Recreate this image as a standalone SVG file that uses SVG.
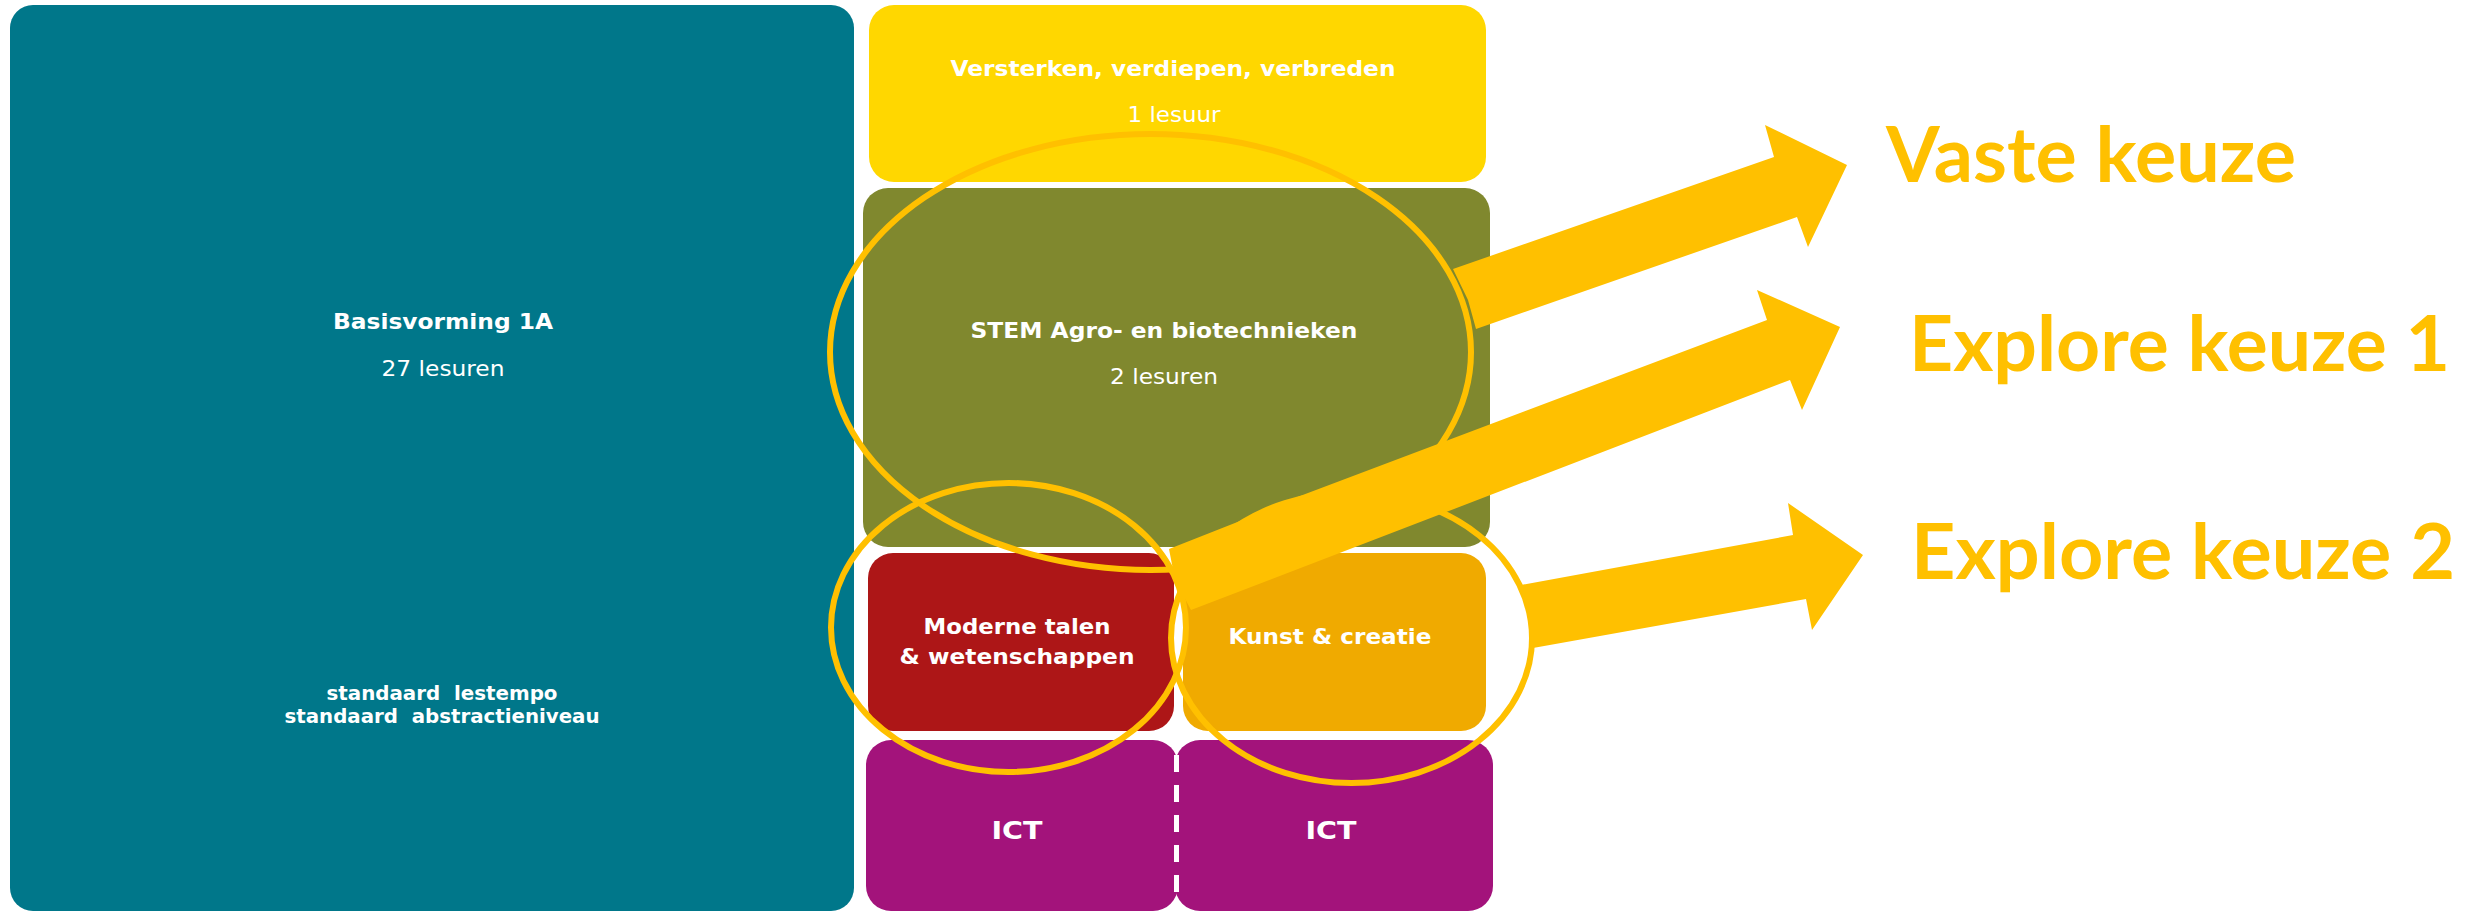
<svg xmlns="http://www.w3.org/2000/svg" width="2471" height="913" viewBox="0 0 2471 913">
<style>
.bx{stroke:none}
.tb{font-family:"DejaVu Sans",Verdana,sans-serif;font-weight:bold;fill:#FFFFFF;text-anchor:middle}
.tr{font-family:"DejaVu Sans",Verdana,sans-serif;font-weight:normal;fill:#FFFFFF;text-anchor:middle}
.big{font-family:Lato,"Open Sans",sans-serif;font-weight:bold;fill:#FFC000}
.arr{fill:#FFC000;stroke:none}
.ell{fill:none;stroke:#FFC000;stroke-width:6}
</style>
<rect width="2471" height="913" fill="#FFFFFF"/>
<g id="basisvorming">
<rect class="bx" x="10" y="5" width="844" height="906" rx="23" fill="#00778A"/>
<text class="tb" x="443" y="329" font-size="22" textLength="220" lengthAdjust="spacingAndGlyphs">Basisvorming 1A</text>
<text class="tr" x="443" y="376" font-size="22" textLength="123" lengthAdjust="spacingAndGlyphs">27 lesuren</text>
<text class="tb" x="442" y="700" font-size="19" textLength="231" lengthAdjust="spacingAndGlyphs" xml:space="preserve">standaard  lestempo</text>
<text class="tb" x="442" y="723" font-size="19" textLength="315" lengthAdjust="spacingAndGlyphs" xml:space="preserve">standaard  abstractieniveau</text>
</g>
<g id="versterken">
<rect class="bx" x="869" y="5" width="617" height="177" rx="25" fill="#FFD700"/>
<text class="tb" x="1173" y="76" font-size="22" textLength="445" lengthAdjust="spacingAndGlyphs">Versterken, verdiepen, verbreden</text>
<text class="tr" x="1174" y="122" font-size="22" textLength="93" lengthAdjust="spacingAndGlyphs">1 lesuur</text>
</g>
<g id="stem">
<rect class="bx" x="863" y="188" width="627" height="359" rx="25" fill="#80882E"/>
<text class="tb" x="1164" y="338" font-size="22" textLength="387" lengthAdjust="spacingAndGlyphs">STEM Agro- en biotechnieken</text>
<text class="tr" x="1164" y="384" font-size="22" textLength="108" lengthAdjust="spacingAndGlyphs">2 lesuren</text>
</g>
<g id="moderne-talen">
<rect class="bx" x="868" y="553" width="306" height="178" rx="25" fill="#AD1617"/>
<text class="tb" x="1017" y="634" font-size="22" textLength="187" lengthAdjust="spacingAndGlyphs">Moderne talen</text>
<text class="tb" x="1017" y="664" font-size="22" textLength="235" lengthAdjust="spacingAndGlyphs">&amp; wetenschappen</text>
</g>
<g id="kunst">
<rect class="bx" x="1183" y="553" width="303" height="178" rx="25" fill="#F0AA00"/>
<text class="tb" x="1330" y="644" font-size="22" textLength="203" lengthAdjust="spacingAndGlyphs">Kunst &amp; creatie</text>
</g>
<g id="ict">
<rect class="bx" x="866" y="740" width="312" height="171" rx="25" fill="#A3137B"/>
<rect class="bx" x="1175" y="740" width="318" height="171" rx="25" fill="#A3137B"/>
<line x1="1176.5" y1="755" x2="1176.5" y2="911" stroke="#FFFFFF" stroke-width="5" stroke-dasharray="17 13"/>
<text class="tb" x="1017" y="839" font-size="24" textLength="51" lengthAdjust="spacingAndGlyphs">ICT</text>
<text class="tb" x="1331" y="839" font-size="24" textLength="51" lengthAdjust="spacingAndGlyphs">ICT</text>
</g>
<g id="connectors">
<polygon class="arr" points="1453,269 1774,157 1765,125 1847,165 1808,247 1797,217 1476,329 1468,300"/>
<polygon class="arr" points="1169,549 1240,521 1300,496 1767,320 1757,290 1840,327 1802,410 1790,380 1191,610 1175,580"/>
<polygon class="arr" points="1521,585 1793,535 1788,503 1863,555 1812,630 1806,599 1533,648 1530,615"/>
<ellipse class="ell" cx="1150.5" cy="352" rx="320.5" ry="218"/>
<ellipse class="ell" cx="1008.5" cy="627.5" rx="177.5" ry="144.5"/>
<ellipse class="ell" cx="1351.5" cy="638" rx="180.5" ry="145"/>
</g>
<g id="labels">
<text class="big" x="1886" y="182" font-size="76" textLength="410" lengthAdjust="spacingAndGlyphs">Vaste keuze</text>
<text class="big" x="1909" y="371" font-size="76" textLength="541" lengthAdjust="spacingAndGlyphs">Explore keuze 1</text>
<text class="big" x="1911" y="579" font-size="76" textLength="544" lengthAdjust="spacingAndGlyphs">Explore keuze 2</text>
</g>
</svg>
